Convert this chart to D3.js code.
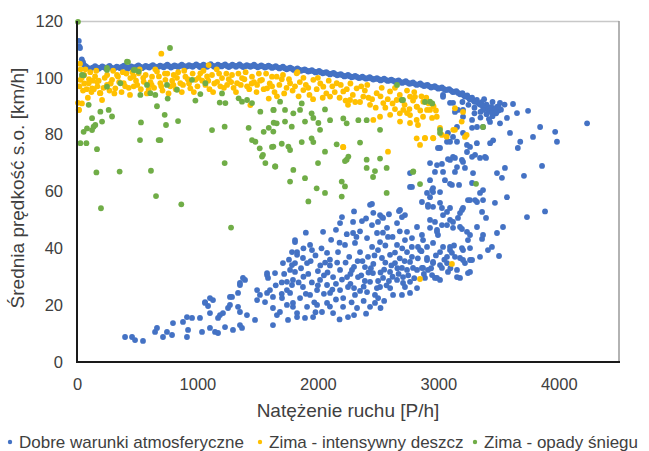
<!DOCTYPE html>
<html lang="pl">
<head>
<meta charset="UTF-8">
<title>Natężenie ruchu a prędkość</title>
<script src="https://d3js.org/d3.v7.min.js"></script>
<style>
  body { margin: 0; background: #fff; }
  text { font-family: "Liberation Sans", Arial, sans-serif; fill: #404040; }
</style>
</head>
<body>
<div id="chart"></div>
<script>

// series names and ticks
var seriesNames = ["Dobre warunki atmosferyczne", "Zima - intensywny deszcz", "Zima - opady śniegu"];
var seriesColors = ["#4472C4", "#FFC000", "#70AD47"];
var xTicks = [0, 1000, 2000, 3000, 4000];
var yTicks = [0, 20, 40, 60, 80, 100, 120];

// blue: free-flow band
var dobreBand = [[15,113],[20,111],[25,110.5],[40,106.5],[50,105.5],[60,104.5],[75,104],[90,103.5],[110,103.2],[130,103.6],
  [150,104.1],[180,103.2],[210,104.0],[240,103.3],[270,104.2],[300,103.1],[330,103.9],[360,103.4],[390,104.3],[420,103.2],
  [450,104.0],[480,103.5],[510,104.4],[540,103.4],[570,104.2],[600,103.6],[630,104.5],[660,103.5],[690,104.3],[720,103.7],
  [750,104.6],[780,103.6],[810,104.4],[840,103.8],[870,104.6],[900,103.7],[930,104.5],[960,103.9],[990,104.7],[1020,103.8],
  [1050,104.6],[1080,103.9],[1110,104.8],[1140,103.9],[1170,104.6],[1200,104.0],[1230,104.7],[1260,103.8],[1290,104.6],[1320,103.9],
  [1350,104.7],[1380,103.8],[1410,104.5],[1440,103.9],[1470,104.6],[1500,103.7],[1530,104.4],[1560,103.6],[1590,104.3],[1620,103.5],
  [1650,104.1],[1680,103.3],[1710,103.9],[1740,103.0],[1770,103.6],[1800,102.8],[1830,103.3],[1860,102.5],[1890,103.0],[1920,102.2],
  [1950,102.7],[1980,101.9],[2010,102.4],[2040,101.6],[2070,102.0],[2100,101.2],[2130,101.7],[2160,100.9],[2190,101.3],[2220,100.5],
  [2250,101.0],[2280,100.2],[2310,100.7],[2340,99.9],[2370,100.4],[2400,99.7],[2430,100.2],[2460,99.4],[2490,99.9],[2520,99.1],
  [2550,99.7],[2580,98.9],[2610,99.4],[2640,98.6],[2670,99.1],[2700,98.2],[2730,98.8],[2760,97.9],[2790,98.4],[2820,97.5],
  [2850,98.0],[2880,97.1],[2910,97.5],[2940,96.6],[2970,97.1],[3000,96.2],[3030,96.6],[3060,95.7],[3090,96.0],[3120,95.0],
  [3150,95.3],[3180,94.2],[3200,94.6],[3220,93.4],[3240,93.8],[3260,92.5],[3280,93.0],[3300,91.6],[3320,92.2],[3340,90.8],
  [3360,91.4],[3380,89.9],[3400,90.6],[3420,89.1],[3440,89.8],[3460,88.6],[3480,89.2],[3500,88.5],
  [3300,89.5],[3350,88],[3400,87.2],[3450,86.5],[3250,90.5],[3200,91.5],[3380,92.5],[3450,91.5],[3500,90],[3420,85.5],
  [3350,86],[3480,87.5],[3520,88.8],[3550,90.6],[3300,87.5]];

// blue: middle row of the same band
var dobreBandMid = [[165,103.7],[195,103.6],[225,103.7],[255,103.8],[285,103.6],[315,103.5],[345,103.7],[375,103.9],[405,103.8],[435,103.6],
  [465,103.8],[495,104.0],[525,103.9],[555,103.8],[585,103.9],[615,104.1],[645,104.0],[675,103.9],[705,104.0],[735,104.2],
  [765,104.1],[795,104.0],[825,104.1],[855,104.2],[885,104.2],[915,104.1],[945,104.2],[975,104.3],[1005,104.3],[1035,104.2],
  [1065,104.3],[1095,104.4],[1125,104.3],[1155,104.2],[1185,104.3],[1215,104.4],[1245,104.2],[1275,104.2],[1305,104.3],[1335,104.3],
  [1365,104.2],[1395,104.1],[1425,104.2],[1455,104.2],[1485,104.1],[1515,104.0],[1545,104.0],[1575,103.9],[1605,103.9],[1635,103.8],
  [1665,103.7],[1695,103.6],[1725,103.4],[1755,103.3],[1785,103.2],[1815,103.0],[1845,102.9],[1875,102.7],[1905,102.6],[1935,102.4],
  [1965,102.3],[1995,102.1],[2025,102.0],[2055,101.8],[2085,101.6],[2115,101.5],[2145,101.3],[2175,101.1],[2205,100.9],[2235,100.7],
  [2265,100.6],[2295,100.4],[2325,100.3],[2355,100.1],[2385,100.0],[2415,99.9],[2445,99.8],[2475,99.6],[2505,99.5],[2535,99.4],
  [2565,99.3],[2595,99.1],[2625,99.0],[2655,98.8],[2685,98.6],[2715,98.5],[2745,98.3],[2775,98.1],[2805,97.9],[2835,97.7],
  [2865,97.5],[2895,97.3],[2925,97.0],[2955,96.8],[2985,96.6],[3015,96.4],[3045,96.1],[3075,95.8],[3105,95.5],[3135,95.1],
  [3165,94.7],[3190,94.3],[3210,93.9],[3230,93.5],[3250,93.1],[3270,92.6],[3290,92.1],[3310,91.6],[3330,91.1],[3350,90.5],
  [3370,90.0],[3390,89.4],[3410,88.8],[3430,88.4],[3450,88.1],[3470,88.6]];

// blue: congested cloud
var dobreScatter = [[3039,94],[3097,91.2],[3138,88],[3205,88.7],[3155,77.5],[3072,77.5],[3014,75.3],[2989,69.3],[3097,71.1],[3155,68.6],
  [3196,71.1],[3039,66.9],[3113,62.3],[2931,64],[2765,61.6],[2956,59.8],[2864,56.3],[2914,54.6],[2433,55.3],[3238,73.9],
  [3620,90.8],[3745,88.4],[3653,87.6],[4235,84],[3845,82.7],[3970,81],[3985,77.5],[3786,79.2],[3680,77.5],[3660,75.3],
  [3595,80.6],[3512,84],[3570,85.9],[3455,78],[3430,77],[3320,77],[3263,75.7],[3097,77.5],[3205,80.6],[3155,82.7],
  [3280,82.4],[3371,82.7],[3122,72.2],[3305,72.9],[3387,72.2],[2997,75.3],
  [3861,69],[3711,65.5],[3886,53],[3736,51],[3570,58],[3537,47.5],[3504,37.3],[3396,50.7],[3487,45.4],[3470,56],
  [3487,66.5],[3553,68.3],[3528,64.8],[3346,59.5],[3371,60.5],[3321,56.3],[3246,57],[3280,63],[3288,66.5],[3280,72.2],
  [3346,71.8],[3396,71.8],[3205,70.4],[3138,71.8],[3080,71.4],[3030,69.7],[2972,66.9],[2931,70],[3055,64],[3138,66.9],
  [3221,68.3],[3097,62.7],[3172,62.3],[3014,59.8],[2948,60.5],[2931,58],[2914,55.3],[2956,54.6],[3030,54.2],[3097,54.2],
  [3196,53.5],[3180,52.4],[3163,50.7],[3305,57],[3371,57],[2931,50],[2972,49.3],[3039,51.7],[3097,50],[3122,47.2],
  [3196,46.8],[3238,45.8],[3263,44.7],[3246,42.9],[3363,43.3],[3371,44.7],[3445,40.5],[3412,39.4],[3346,37],[3263,35.9],
  [3221,34.8],[3180,36.6],[3263,40.1],[3196,40.1],[3097,39.4],[3039,40.5],[3113,38.4],[3014,38.7],[2956,41.9],[2873,42.9],
  [2831,40.5],[2906,40.5],[2781,43.6],[2723,42.9],[2989,46.5],[3030,48.2],[2997,44.7],[3072,48.2],[2931,47.2],[2864,44.7],
  [3246,31.3],[3180,29.6],[3155,32.4],[3080,31.7],[3072,34.8],[3014,34.1],[2956,35.2],[2906,35.9],[2864,33.1],[2914,32.4],
  [2948,30.6],[2889,29.6],[2972,29.6],[3014,28.9],[2790,33.1],[2740,32.4],[2707,29.9],[2765,28.2],[2823,26],[2765,24.3],
  [2698,23.6],[2707,27.8],
  [2200,51],[2184,48.9],[2292,49.3],[2366,49.6],[2449,48.2],[2516,51.7],[2541,50.7],[2499,49.3],[2682,53.5],[2723,51.7],
  [2657,48.9],[2574,47.2],[2043,45.8],[2292,45.4],[2408,43.6],[2491,45.4],[2516,42.2],[2582,44],[2740,45.8],[2823,47.5],
  [1810,42.2],[1935,41.2],[1951,39.4],[2076,38.4],[2167,38.7],[2225,41.2],[2308,41.9],[2350,38.7],[2416,37],[2499,39.4],
  [2532,36.6],[2599,37.7],[2657,41.2],[2740,38.7],[2781,37],[2640,34.8],[2698,33.1],[2599,31.7],[2657,28.9],[2541,29.6],
  [2457,31.3],[2433,28.2],[2391,33.4],[2333,29.9],[2283,32.4],[2242,29.9],[2184,32.4],[2126,29.9],[2076,27.1],[2101,24.3],
  [2184,25.3],[2250,26.4],[2308,23.6],[2408,24.6],[2474,23.6],[2516,26.4],[2624,23.6],[2723,26.4],[2018,28.9],[1993,25.3],
  [1935,23.6],[1876,26.4],[1852,22.5],[1793,20.8],[1910,19.4],[1993,20.1],[2076,20.8],[2034,17.6],[2126,17.2],[2209,19.4],
  [2250,15.8],[2325,19],[2433,19.4],[2474,20.8],[1827,15.8],[1893,15.5],[1960,15.8],[1769,32.4],[1810,34.8],[1910,34.8],
  [1876,36.6],[1827,37.7],[2906,59.5],[2956,61.2],[3014,56],[3072,52.8],[3122,49.3],[3180,47.5],[3205,54.2],[3321,47.5],
  [3363,52.8],[3263,57],[2989,45.8],[2848,39.4],[2906,36.6],[2956,34.8],[2873,33.1],[3030,33.1],[3072,37],[3138,37],
  [3205,35.9],[3280,35.9],[3205,39.4],[3097,40.5],[3263,31.7],[3155,29.9],[2989,29.6],[2765,35.2],[2823,32.4],
  [399,8.8],[457,8.8],[482,7.7],[548,7.4],[648,10.6],[664,12],[714,8.8],[747,10.6],[789,9.5],[797,13.7],
  [913,8.8],[922,11.3],[880,14.1],[913,15.8],[955,15.5],[1021,15.5],[1038,10.6],[1104,12],[1146,10.6],[1171,10.2],
  [1229,12.3],[1295,11.3],[1353,13],[1370,12],[1104,17.2],[1187,16.5],[1212,17.2],[1171,15.5],[1254,19],[1337,19.4],
  [1411,16.5],[1478,14.8],[1353,17.6],[1063,21.1],[1129,21.8],[1088,19.7],[1270,20.1],[1270,22.9],[1337,24.3],[1353,27.1],
  [1395,28.9],[1495,21.8],[1519,23.6],[1495,25.3],[1578,24.3],[1602,25.3],[1561,21.1],[1627,22.9],[1702,22.5],[1627,19],
  [1660,16.5],[1627,13],[1685,17.6],[1743,20.1],[1752,14.8],[1793,19.4],[1827,17.2],[1578,31.3],[1586,29.6],[1644,31.3],
  [1710,34.8],[1743,25.3],[1769,24.3],[1785,27.1],[1793,28.9],[1785,34.1],[1810,31.7],[1743,28.2],[1785,38.7],[1827,38.7],
  [1104,22.5],[1063,20.8],[1287,22.9],[1378,29.6],[1353,27.8],[1578,30.6],[1810,42.9],[2449,55.6],[2532,51],[2673,53.1],
  [2698,51],[2765,66.5],[2781,61.6],
  [3039,93.3],[3122,91.2],[3163,88.7],[3205,86.3],[3280,85.2],[3371,88.7],[3445,87.6],[3487,89.8],[3512,91.2],[3321,82.7],
  [3429,84.5],[3122,79.2],[3238,76.4],[3080,80.6],
  [1950,28],[2000,32],[2050,30.5],[2100,34],[2150,27.5],[2200,29],[2230,35],[2270,27.5],[2300,33.5],[2360,30.5],
  [2380,26.5],[2420,31.5],[2460,34.5],[2500,28.5],[2550,32.5],[2570,27],[2620,30],[2660,33],[2680,36.5],[2600,26],
  [2550,21.5],[2500,22.5],[2380,21.5],[2280,21],[2150,22],[2050,24],[1980,37.5],[2110,43],[2260,37],[2330,35.5],
  [2450,40.5],[2560,41],[2620,44],[2680,46],[2350,46],[2150,46.5],[2400,50.5],[2590,52],[2460,52.5],[2300,53],
  [2100,36],[2020,34],[1880,30],[1700,28],[1650,27],[1900,45.5],
  [1700,24],[1720,31],[1760,36],[1840,28],[1860,33],[1880,40],[1900,24],[1920,31],[1940,35.5],[1970,21],
  [2000,27],[2030,40],[2060,35],[2080,31.5],[2120,25.5],[2160,35],[2180,42],[2210,22.5],[2240,45],[2270,31],
  [2300,26],[2320,44],[2350,25],[2370,35.5],[2390,28.5],[2440,33],[2470,37.5],[2490,26],[2520,31.5],[2540,45.5],
  [2560,35],[2590,28.5],[2610,34],[2640,38.5],[2670,31],[2700,40],[2720,35.5],[2750,30.5],[2780,40.5],[2800,29.5],
  [2830,36.5],[2860,39],[2880,31],[2940,33],[2980,37.5],[3050,36],[3100,33],[3130,41],[2400,17],[2300,16.5],
  [2520,19],[2180,15],[2100,19.5],[1980,17.5]];

// yellow: winter, heavy rain
var deszcz = [[25,105],[17,88.7],[8,91.2],[700,108.5],
  [40,100],[60,98],[80,96],[100,99.5],[120,95],[150,100.5],[170,97],[190,94.7],[30,103],[50,95.5],
  [28,99.3],[41,91],[14,88.7],[97,98.1],[125,96.3],[166,98.6],[194,94.6],[208,92.2],[249,97.5],[291,99.3],
  [332,101],[318,96.3],[388,98.1],[443,99.9],[471,97],[512,101.6],[554,98.6],[595,95.8],[623,100.4],[664,102.2],
  [692,98.1],[734,99.3],[775,97],[803,101],[858,98.1],[900,100.4],[941,96.3],[983,99.3],[1024,101.6],[1066,97.5],
  [1093,104.5],[1121,101],[1163,98.6],[1204,99.9],[1246,97.5],[1287,101],[1329,98.1],[1370,99.9],[1412,97],[1453,100.4],
  [1495,97.5],[1536,99.3],[1578,96.3],[1619,100.4],[1439,90.4],[1592,92.7],
  [60,101],[110,102],[140,96],[230,100],[270,95.5],[300,102.5],[350,98.5],[370,95],[410,101.5],[430,96.5],
  [460,102],[490,99],[530,96],[570,101],[610,98.5],[640,96.5],[680,100.5],[710,95.5],[750,101.5],[790,99],
  [820,96],[840,102],[880,97.5],[920,99.5],[960,101.5],[1000,97],[1040,99],[1080,100.5],[1100,96],[1140,98],
  [1180,101.5],[1220,96.5],[1260,99.5],[1300,96.5],[1340,101.5],[1390,99.5],[1430,96],[1470,98.5],[1510,101.5],[1550,96],
  [1600,98],[1640,95],[1680,97.5],[1720,94.5],[1700,99.5],[1740,96.5],[1790,95.5],[1850,98.5],[1900,97.5],[1930,94],
  [1990,96],[2020,98],[2070,94.5],[2120,97],[2180,93],[2240,96],[2290,94],[2350,91.5],[2390,95.5],[2420,93],
  [2520,93.5],[2560,89.5],[2620,91],[2680,94],[2720,90.5],[2790,92],[2850,88.5],[2900,93],[2960,90],[2680,87.5],
  [2600,87],[2250,90.5],[1830,102],
  [1658,100.4],[1769,98.1],[1824,101.6],[1879,95.7],[1962,99.3],[2045,96.9],[2101,93.4],[2156,98.1],[2211,95.2],[2267,92.2],
  [2322,96.3],[2377,93.4],[2433,90.5],[2582,74],[2211,75.6],[2488,94.6],[2543,91.1],[2599,95.2],[2654,92.2],[2709,88.7],
  [2765,93.4],[2820,89.9],[2875,91.6],[2931,88.7],[2987,86.3],[2820,85.2],[2765,86.9],[2682,84.6],[2516,86.3],[2460,85.2],
  [2820,78.7],[2889,78.7],[2958,78.7],[2848,76.4],[3124,81.7],[3194,84.6],[3138,89.3],[3235,79.9],[3069,79.3],
  [2806,93.3],[2823,89.8],[2906,88.7],[2931,91.2],[2873,86.3],[2740,87.6],[2948,85.9],[2831,83.4],[2765,84.1],[3014,82.4],
  [3138,81.7],[3221,79.2],[3030,79.9],[2956,78.9],[2889,78.9],[3205,88],[2209,75.7],[3113,34.5],[2848,29.2],
  [20,97],[70,103],[90,93],[130,99],[160,102.5],[180,99],[220,96.5],[250,101],[280,98],[310,94.5],
  [340,100.5],[380,102],[400,97],[440,94],[470,100.5],[500,97.5],[520,103],[550,100],[580,94.5],[620,97.5],
  [650,103],[700,97],[730,101.5],[760,94.5],[800,97.5],[830,100],[870,95],[890,102.5],[930,98],[970,95],
  [1010,100],[1050,102.5],[1090,99],[1130,95],[1160,103],[1190,97],[1240,101.5],[1280,98.5],[1320,95],[1360,97.5],
  [1400,102],[1450,98],[1490,95],[1520,99],[1570,101.5],[1620,97],[1660,93.5],[1710,101],[1760,99.5],[1810,97],
  [1840,93.5],[1880,100],[1920,96.5],[1960,92.5],[2000,100],[2040,93],[2090,99],[2140,95],[2190,97.5],[2230,92],
  [2270,98],[2310,91.5],[2360,97],[2410,97.5],[2450,92.5],[2480,89.5],[2530,96.5],[2580,92.5],[2640,96.5],[2700,92],
  [2740,95.5],[2760,89],[2800,95],[2860,93.5],[2920,91],[2980,88.5],[2640,89]];

// green: winter, snowfall
var snieg = [[8,119.7],[41,101],[55,81],[83,82.2],[125,81.6],[138,82.8],[152,83.4],[97,90.5],[125,85.8],[194,88.1],
  [208,84.6],[263,88.7],[291,86.4],[28,77],[78,77],[166,74.9],[161,66.7],[354,67],[199,54.1],[614,67.3],
  [656,58.4],[866,55.5],[1279,47.3],[531,84.3],[664,90],[728,87],[678,78.1],[692,78.1],[739,83.4],[753,92.7],
  [839,84.8],[983,92],[1024,94.3],[1121,81.6],[1185,91.3],[1232,91.1],[1226,82.8],[1226,70],[1204,94.5],[1342,92.8],
  [1370,91.6],[1412,92.2],[1453,91.1],[1425,82.4],[1453,78.1],[1481,77.5],[1517,75.2],[1536,72.3],[1619,75.7],[1564,70],
  [1647,68.8],[1550,81],[1592,82.4],[1633,84.2],[1522,88.1],[1633,88.7],[55,100.9],[249,102.8],[415,105.7],[471,102.8],
  [512,102.2],[609,94.6],[650,94],[526,94],[360,98.1],[249,96.9],[581,97.5],[747,97.5],[830,95.8],[955,99.3],
  [1066,98.1],[772,110.5],[423,105.6],[482,102.8],[523,78.1],[249,103.5],
  [1630,88.7],[1686,91.6],[1727,88.7],[1658,84],[1630,81.1],[1727,84.6],[1796,87.5],[1852,88.7],[1866,91],[1783,82.8],
  [1893,84.6],[1948,87.5],[1962,85.9],[2004,84.1],[2018,81.7],[2101,85.1],[2059,88.9],[2211,85.7],[2239,84],[2336,85.1],
  [2405,85.1],[2516,81.7],[1630,75.8],[1700,76.8],[1755,75.8],[1769,74.6],[1866,77.4],[1948,78.7],[1962,77.4],[2059,74],
  [2156,76.6],[2253,72.3],[2239,71.2],[2350,77.2],[2405,71.2],[2516,71.6],[2571,68.3],[2405,68.3],[2474,67.2],[1644,68.8],
  [1796,67.6],[1893,64.7],[1769,63.5],[1990,61.1],[2059,59.5],[2198,63.5],[2225,61.8],[2198,58.2],[1921,56.5],[2571,59.5],
  [2792,67.1],[2848,62.6],[2657,97.5],[2696,92.2],[2931,91.6],[3014,81.7],[2707,92.2],[2889,91.5],[2950,91],[3014,80.6],
  [3371,82.7],[2790,66.9],[3313,62.7],[1544,72.9],[2001,70],[2458,65.1],[2225,70.7]];

var W = 649, H = 451;
var plot = {left: 77, right: 619, top: 21, bottom: 362};

var svg = d3.select("#chart").append("svg")
    .attr("width", W)
    .attr("height", H);

var x = d3.scaleLinear().domain([0, 4500]).range([plot.left, plot.right]);
var y = d3.scaleLinear().domain([0, 120]).range([plot.bottom, plot.top]);

// frame: light top/right, dark axis lines
svg.append("line")
    .attr("x1", plot.left).attr("x2", plot.right)
    .attr("y1", plot.top + 0.5).attr("y2", plot.top + 0.5)
    .attr("stroke", "#c8c8c8").attr("stroke-width", 1.5);
svg.append("line")
    .attr("x1", plot.right).attr("x2", plot.right)
    .attr("y1", plot.top).attr("y2", plot.bottom)
    .attr("stroke", "#9a9a9a").attr("stroke-width", 1.5);

// axes
var yAxis = svg.append("g")
    .attr("transform", "translate(" + plot.left + ",0)")
    .call(d3.axisLeft(y).tickValues(yTicks).tickSize(0).tickPadding(14).tickFormat(d3.format("d")));
var xAxis = svg.append("g")
    .attr("transform", "translate(0," + plot.bottom + ")")
    .call(d3.axisBottom(x).tickValues(xTicks).tickSize(0).tickPadding(16).tickFormat(d3.format("d")));

[xAxis, yAxis].forEach(function (g) {
  g.select(".domain").remove();
  g.selectAll("text")
    .style("font-size", "16.5px")
    .style("font-family", "'Liberation Sans', Arial, sans-serif")
    .attr("fill", "#404040");
});

// points: blue first, then yellow, then green on top
var series = [dobreBand.concat(dobreBandMid, dobreScatter), deszcz, snieg];
series.forEach(function (pts, i) {
  svg.append("g")
    .selectAll("circle")
    .data(pts)
    .enter()
    .append("circle")
      .attr("cx", function (d) { return x(d[0]); })
      .attr("cy", function (d) { return y(d[1]); })
      .attr("r", 2.9)
      .attr("fill", seriesColors[i]);
});

svg.append("line")
    .attr("x1", plot.left).attr("x2", plot.left)
    .attr("y1", plot.top).attr("y2", plot.bottom + 1)
    .attr("stroke", "#1a1a1a").attr("stroke-width", 2);
svg.append("line")
    .attr("x1", plot.left - 1).attr("x2", plot.right + 1)
    .attr("y1", plot.bottom).attr("y2", plot.bottom)
    .attr("stroke", "#1a1a1a").attr("stroke-width", 2);

// axis titles
svg.append("text")
    .attr("x", (plot.left + plot.right) / 2)
    .attr("y", 417)
    .attr("text-anchor", "middle")
    .style("font-size", "19px")
    .text("Natężenie ruchu [P/h]");
svg.append("text")
    .attr("transform", "translate(24," + 188 + ") rotate(-90)")
    .attr("text-anchor", "middle")
    .style("font-size", "19px")
    .text("Średnia prędkość s.o. [km/h]");

// legend
var legendX = [10, 260, 475];
seriesNames.forEach(function (name, i) {
  svg.append("circle")
    .attr("cx", legendX[i]).attr("cy", 442)
    .attr("r", 2.2)
    .attr("fill", seriesColors[i]);
  svg.append("text")
    .attr("x", legendX[i] + 9).attr("y", 448)
    .style("font-size", "17px")
    .text(name);
});

</script>
</body>
</html>
